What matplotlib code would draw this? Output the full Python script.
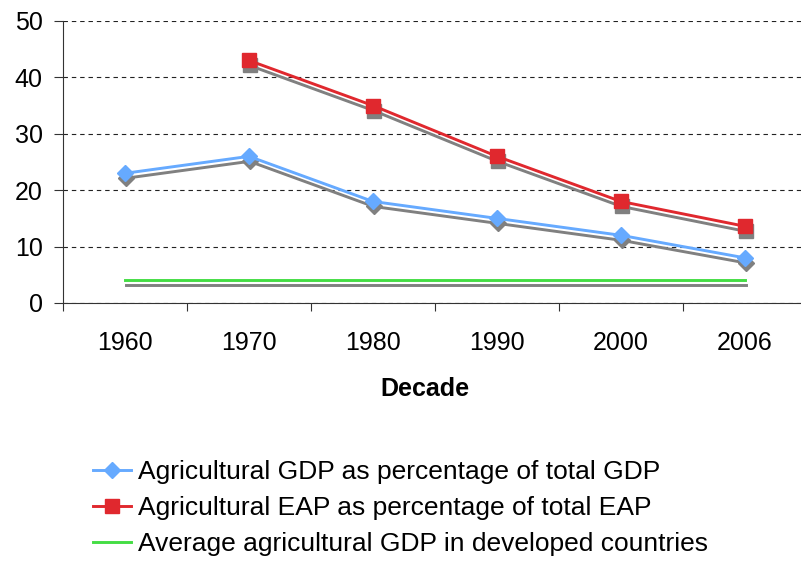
import matplotlib
matplotlib.use("Agg")
import matplotlib.pyplot as plt
import matplotlib.transforms as mtransforms
import numpy as np

plt.rcParams["font.family"] = ["Liberation Sans", "DejaVu Sans"]

DECADES = ["1960", "1970", "1980", "1990", "2000", "2006"]
GDP_SHARE = [23, 26, 18, 15, 12, 8]
EAP_SHARE = [np.nan, 43, 35, 26, 18, 13.6]
DEVELOPED_GDP = [4, 4, 4, 4, 4, 4]

LABELS = [
    "Agricultural GDP as percentage of total GDP",
    "Agricultural EAP as percentage of total EAP",
    "Average agricultural GDP in developed countries",
]

BLUE = "#66aaff"
RED = "#e0282e"
GREEN = "#44dd44"
SHADOW = "#808080"

fig = plt.figure(figsize=(8.01, 5.61), dpi=100)
ax = fig.add_axes([63 / 801, 1 - 303 / 561, 744 / 801, 282 / 561])

x = np.arange(len(DECADES))
shadow_tf = ax.transData + mtransforms.ScaledTranslation(0.5 / 100, -5 / 100, fig.dpi_scale_trans)

series = [
    (GDP_SHARE, BLUE, "D", 8.5),
    (EAP_SHARE, RED, "s", 9.5),
    (DEVELOPED_GDP, GREEN, None, 0),
]

handles = []
for (vals, color, marker, ms), label in zip(series, LABELS):
    # soft drop shadow under each series
    ax.plot(x, vals, color=SHADOW, lw=2.1, marker=marker, ms=ms, mec=SHADOW,
            transform=shadow_tf, zorder=2, clip_on=False)
    h, = ax.plot(x, vals, color=color, lw=2.1, marker=marker, ms=ms, mec=color,
                 zorder=3, label=label, clip_on=False)
    handles.append(h)

ax.set_xlim(-0.5, len(DECADES) - 0.5)
ax.set_ylim(0, 50)
ax.set_yticks(range(0, 51, 10))
ax.yaxis.grid(True, color="#222222", lw=0.8, linestyle=(0, (4, 3.5)))
ax.set_axisbelow(True)

# category boundaries carry the ticks, the centres carry the labels
ax.set_xticks(np.arange(-0.5, len(DECADES), 1.0))
ax.set_xticklabels([])
ax.set_xticks(x, minor=True)
ax.set_xticklabels(DECADES, minor=True)
ax.tick_params(axis="x", which="major", length=6, width=0.8, color="#333333", direction="out")
ax.tick_params(axis="x", which="minor", length=0, pad=20, labelsize=18)
ax.tick_params(axis="y", length=6.5, width=0.8, color="#333333", pad=8, labelsize=18)

for side in ("top", "right"):
    ax.spines[side].set_visible(False)
for side in ("left", "bottom"):
    ax.spines[side].set_color("#333333")
    ax.spines[side].set_linewidth(0.8)

ax.set_xlabel("Decade", fontsize=18, fontweight="bold")
ax.xaxis.set_label_coords((425 - 63) / 744, 1 - (377 - 21) / 282)

fig.legend(handles=handles, loc="upper left", bbox_to_anchor=(93 / 801, 1 - 460 / 561),
           frameon=False, fontsize=19, borderpad=0, borderaxespad=0,
           handlelength=1.45, handletextpad=0.25, labelspacing=0.45)

fig.savefig("out.png", dpi=100)
